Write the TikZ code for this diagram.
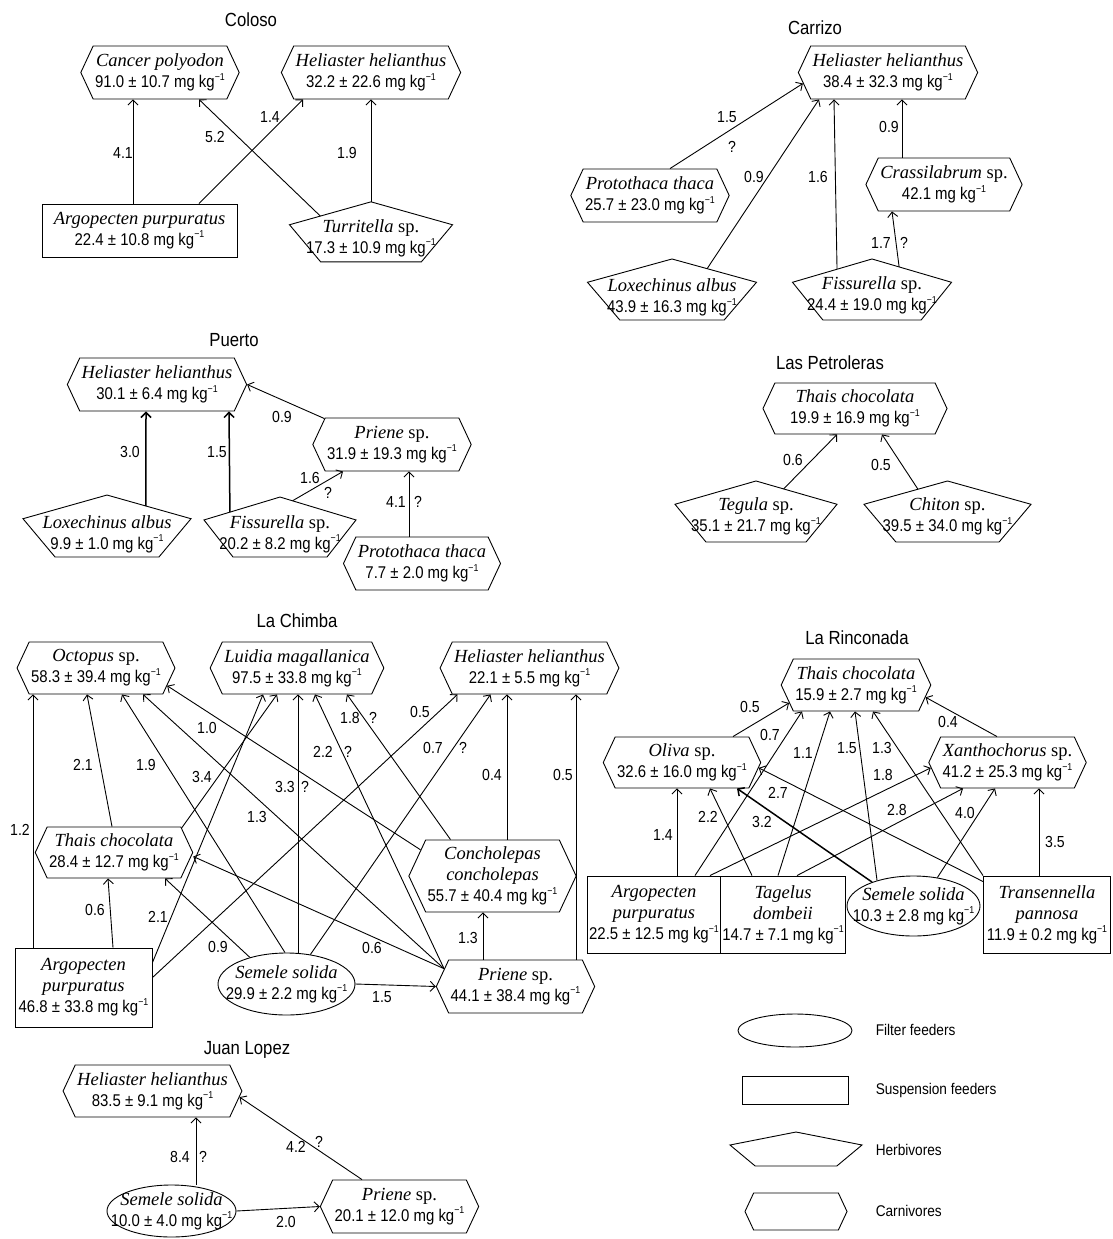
\documentclass[tikz,border=0pt]{standalone}
\usepackage{fontspec}
\setmainfont{Liberation Serif}
\newfontfamily\sansc[FakeStretch=0.88]{Liberation Sans}
\usetikzlibrary{arrows.meta, shapes.geometric, shapes.symbols}

% mean concentration line under a species name
\newcommand{\val}[1]{{\sansc\fontsize{17}{21}\selectfont #1 mg kg\raisebox{.45em}{\fontsize{10}{10}\selectfont −1}}}

\begin{document}
\begin{tikzpicture}[x=1pt, y=-1pt, line width=0.9pt]
  \tikzset{
    sp/.style = {align=center, font=\fontsize{18.5}{21}\selectfont,
      inner xsep=2pt, inner ysep=0pt},
    carn/.style = {sp, draw, signal, signal to=east and west,
      signal pointer angle=130, minimum height=53pt},
    susp/.style = {sp, draw, rectangle, minimum height=53pt},
    filt/.style = {sp, draw, ellipse, inner xsep=-16pt, inner ysep=-2pt},
    herb/.style 2 args = {draw, regular polygon, regular polygon sides=5,
      minimum size=20pt, inner sep=0pt, outer sep=0pt,
      xscale=#1/19.02, yscale=#2/18.09, transform shape},
    num/.style = {font=\sansc\fontsize{16}{16}\selectfont, inner sep=0pt},
    site/.style = {font=\sansc\fontsize{19}{19}\selectfont},
    key/.style = {font=\sansc\fontsize{15.5}{16}\selectfont, anchor=west},
    feeds/.style = {-{Straight Barb[length=5pt, width=10pt]}},
    heavy/.style = {line width=1.5pt}
  }
  \useasboundingbox (0,0) rectangle (1112,1239);

  % Coloso
  \node[site] (coloso) at (251,20) {Coloso};
  \node[carn] (cc-canc) at (160,72.5) {\textit{Cancer polyodon}\\\val{91.0 ± 10.7}};
  \node[carn] (cc-heli) at (371,72.5) {\textit{Heliaster helianthus}\\\val{32.2 ± 22.6}};
  \node[susp, minimum width=195pt] (cc-argo) at (139.5,230.5)
    {\textit{Argopecten purpuratus}\\\val{22.4 ± 10.8}};
  \node[herb={163}{60}] (cc-turr) at (371,235) {};
  \node[sp] (cc-turr-t) at ([yshift=-3pt]cc-turr) {\textit{Turritella} sp.\\\val{17.3 ± 10.9}};
  \draw[feeds] ([xshift=-6.5pt]cc-argo.north) -- ([xshift=-27pt]cc-canc.south);
  \draw[feeds] ([xshift=59.5pt]cc-argo.north) -- ([xshift=-68pt]cc-heli.south);
  \draw[feeds] (cc-turr.136) -- ([xshift=39pt]cc-canc.south);
  \draw[feeds] (cc-turr.north) -- (cc-heli.south);
  \node[num] (cc-n1) at (123,153) {4.1};
  \node[num] (cc-n2) at (215,137) {5.2};
  \node[num] (cc-n3) at (270,117) {1.4};
  \node[num] (cc-n4) at (347,153) {1.9};

  % Carrizo
  \node[site] (carrizo) at (815,28) {Carrizo};
  \node[carn] (cz-heli) at (888,72.5) {\textit{Heliaster helianthus}\\\val{38.4 ± 32.3}};
  \node[carn] (cz-prot) at (650,195.5) {\textit{Protothaca thaca}\\\val{25.7 ± 23.0}};
  \node[carn] (cz-cras) at (944,184.5) {\textit{Crassilabrum} sp.\\\val{42.1}};
  \node[herb={169}{61}] (cz-loxe) at (672,292.7) {};
  \node[sp] (cz-loxe-t) at ([yshift=-5pt]cz-loxe) {\textit{Loxechinus albus}\\\val{43.9 ± 16.3}};
  \node[herb={159}{61}] (cz-fiss) at (872,292.7) {};
  \node[sp] (cz-fiss-t) at ([yshift=-3pt]cz-fiss) {\textit{Fissurella} sp.\\\val{24.4 ± 19.0}};
  \draw[feeds] ([xshift=20pt]cz-prot.north) -- ([xshift=5pt, yshift=-11pt]cz-heli.west);
  \draw[feeds] (cz-loxe.61) -- ([xshift=-69pt]cz-heli.south);
  \draw[feeds] (cz-fiss.121) -- ([xshift=-54pt]cz-heli.south);
  \draw[feeds] ([xshift=-42pt]cz-cras.north) -- ([xshift=14pt]cz-heli.south);
  \draw[feeds] (cz-fiss.67) -- ([xshift=-52pt]cz-cras.south);
  \node[num] (cz-n1) at (727,117) {1.5};
  \node[num] (cz-q1) at (732,147) {?};
  \node[num] (cz-n2) at (754,177) {0.9};
  \node[num] (cz-n3) at (818,177) {1.6};
  \node[num] (cz-n4) at (889,127) {0.9};
  \node[num] (cz-n5) at (881,243) {1.7};
  \node[num] (cz-q5) at (904,243) {?};

  % Puerto
  \node[site] (puerto) at (234,340) {Puerto};
  \node[carn] (pt-heli) at (157,384.5) {\textit{Heliaster helianthus}\\\val{30.1 ± 6.4}};
  \node[carn] (pt-prie) at (392,444.5) {\textit{Priene} sp.\\\val{31.9 ± 19.3}};
  \node[herb={168}{62}] (pt-loxe) at (107,529.3) {};
  \node[sp] (pt-loxe-t) at ([yshift=-5pt]pt-loxe) {\textit{Loxechinus albus}\\\val{9.9 ± 1.0}};
  \node[herb={152}{60}] (pt-fiss) at (280,530.2) {};
  \node[sp] (pt-fiss-t) at ([yshift=-4pt]pt-fiss) {\textit{Fissurella} sp.\\\val{20.2 ± 8.2}};
  \node[carn] (pt-prot) at (422,563.5) {\textit{Protothaca thaca}\\\val{7.7 ± 2.0}};
  \draw[feeds, heavy] (pt-loxe.57) -- ([xshift=-11pt]pt-heli.south);
  \draw[feeds, heavy] (pt-fiss.139) -- ([xshift=72pt]pt-heli.south);
  \draw[feeds] (pt-prie.159) -- (pt-heli.east);
  \draw[feeds] (pt-fiss.80) -- ([xshift=-49pt]pt-prie.south);
  \draw[feeds] ([xshift=-13pt]pt-prot.north) -- ([xshift=17pt]pt-prie.south);
  \node[num] (pt-n1) at (130,452) {3.0};
  \node[num] (pt-n2) at (217,452) {1.5};
  \node[num] (pt-n3) at (282,417) {0.9};
  \node[num] (pt-n4) at (310,478) {1.6};
  \node[num] (pt-q4) at (328,493) {?};
  \node[num] (pt-n5) at (396,502) {4.1};
  \node[num] (pt-q5) at (418,502) {?};

  % Las Petroleras
  \node[site] (petroleras) at (830,363) {Las Petroleras};
  \node[carn, minimum height=51pt, minimum width=184pt] (lp-thai) at (855,408.5)
    {\textit{Thais chocolata}\\\val{19.9 ± 16.9}};
  \node[herb={162}{61}] (lp-tegu) at (756,514.7) {};
  \node[sp] (lp-tegu-t) at ([yshift=-2pt]lp-tegu) {\textit{Tegula} sp.\\\val{35.1 ± 21.7}};
  \node[herb={167}{61}] (lp-chit) at (947.5,514.7) {};
  \node[sp] (lp-chit-t) at ([yshift=-2pt]lp-chit) {\textit{Chiton} sp.\\\val{39.5 ± 34.0}};
  \draw[feeds] (lp-tegu.67) -- ([xshift=-18pt]lp-thai.south);
  \draw[feeds] (lp-chit.114) -- ([xshift=27pt]lp-thai.south);
  \node[num] (lp-n1) at (793,460) {0.6};
  \node[num] (lp-n2) at (881,465) {0.5};

  % La Chimba
  \node[site] (chimba) at (297,621) {La Chimba};
  \node[carn, minimum height=52pt] (ch-octo) at (96,668) {\textit{Octopus} sp.\\\val{58.3 ± 39.4}};
  \node[carn, minimum height=52pt] (ch-luid) at (297,668) {\textit{Luidia magallanica}\\\val{97.5 ± 33.8}};
  \node[carn, minimum height=52pt] (ch-heli) at (529.5,668) {\textit{Heliaster helianthus}\\\val{22.1 ± 5.5}};
  \node[carn, minimum height=51pt] (ch-thai) at (114,852.5) {\textit{Thais chocolata}\\\val{28.4 ± 12.7}};
  \node[carn, minimum height=72pt] (ch-conc) at (492.5,876)
    {\textit{Concholepas}\\\textit{concholepas}\\\val{55.7 ± 40.4}};
  \node[susp, minimum width=137pt, minimum height=79pt] (ch-argo) at (83.5,987.5)
    {\textit{Argopecten}\\\textit{purpuratus}\\\val{46.8 ± 33.8}};
  \node[filt, minimum width=137pt, minimum height=62pt] (ch-seme) at (286.5,984)
    {\textit{Semele solida}\\\val{29.9 ± 2.2}};
  \node[carn] (ch-prie) at (515.5,986.5) {\textit{Priene} sp.\\\val{44.1 ± 38.4}};
  \draw[feeds] ([xshift=-50.5pt]ch-argo.north) -- ([xshift=-63pt]ch-octo.south);
  \draw[feeds] ([xshift=-2pt]ch-thai.north) -- ([xshift=-9pt]ch-octo.south);
  \draw[feeds] ([xshift=29.5pt]ch-argo.north) -- ([xshift=-6pt]ch-thai.south);
  \draw[feeds] ([xshift=-1.5pt]ch-seme.north) -- ([xshift=26pt]ch-octo.south);
  \draw[feeds] (ch-prie.166) -- ([xshift=47pt]ch-octo.south);
  \draw[feeds] (ch-conc.160) -- (ch-octo.-14);
  \draw[feeds] ([yshift=-15pt]ch-argo.north east) -- ([xshift=-34pt]ch-luid.south);
  \draw[feeds] (ch-thai.20) -- ([xshift=-20pt]ch-luid.south);
  \draw[feeds] ([xshift=11.5pt]ch-seme.north) -- ([xshift=1pt]ch-luid.south);
  \draw[feeds] (ch-prie.166) -- ([xshift=18pt]ch-luid.south);
  \draw[feeds] ([xshift=-42pt]ch-conc.north) -- ([xshift=50pt]ch-luid.south);
  \draw[feeds] ([yshift=-30pt]ch-argo.north east) -- ([xshift=-72pt]ch-heli.south);
  \draw[feeds] (ch-seme.51) -- ([xshift=-39pt]ch-heli.south);
  \draw[feeds] ([xshift=14.5pt]ch-conc.north) -- ([xshift=-22.5pt]ch-heli.south);
  \draw[feeds] ([xshift=60.5pt]ch-prie.north) -- ([xshift=46.5pt]ch-heli.south);
  \draw[feeds] ([xshift=-32.5pt]ch-prie.north) -- ([xshift=-9.5pt]ch-conc.south);
  \draw[feeds] (ch-seme.east) -- (ch-prie.west);
  \draw[feeds] (ch-prie.166) -- ([yshift=-4pt]ch-thai.east);
  \draw[feeds] (ch-seme.144) -- ([xshift=51pt]ch-thai.south);
  \node[num] (ch-n1) at (20,830) {1.2};
  \node[num] (ch-n2) at (83,765) {2.1};
  \node[num] (ch-n3) at (146,765) {1.9};
  \node[num] (ch-n4) at (202,777) {3.4};
  \node[num] (ch-n5) at (207,728) {1.0};
  \node[num] (ch-n6) at (257,817) {1.3};
  \node[num] (ch-n7) at (285,787) {3.3};
  \node[num] (ch-q7) at (305,787) {?};
  \node[num] (ch-n8) at (323,752) {2.2};
  \node[num] (ch-q8) at (348,752) {?};
  \node[num] (ch-n9) at (350,718) {1.8};
  \node[num] (ch-q9) at (373,718) {?};
  \node[num] (ch-n10) at (420,712) {0.5};
  \node[num] (ch-n11) at (433,748) {0.7};
  \node[num] (ch-q11) at (463,748) {?};
  \node[num] (ch-n12) at (492,775) {0.4};
  \node[num] (ch-n13) at (563,775) {0.5};
  \node[num] (ch-n14) at (95,910) {0.6};
  \node[num] (ch-n15) at (158,917) {2.1};
  \node[num] (ch-n16) at (218,947) {0.9};
  \node[num] (ch-n17) at (372,948) {0.6};
  \node[num] (ch-n18) at (468,938) {1.3};
  \node[num] (ch-n19) at (382,997) {1.5};

  % La Rinconada
  \node[site] (rinconada) at (857,638) {La Rinconada};
  \node[carn, minimum height=52pt] (lr-thai) at (856,685) {\textit{Thais chocolata}\\\val{15.9 ± 2.7}};
  \node[carn, minimum height=51pt] (lr-oliv) at (682,762.5) {\textit{Oliva} sp.\\\val{32.6 ± 16.0}};
  \node[carn, minimum height=51pt] (lr-xant) at (1007.5,762.5) {\textit{Xanthochorus} sp.\\\val{41.2 ± 25.3}};
  \node[susp, minimum width=130pt, minimum height=77pt] (lr-argo) at (654,914.5)
    {\textit{Argopecten}\\\textit{purpuratus}\\\val{22.5 ± 12.5}};
  \node[susp, minimum width=120pt, minimum height=77pt] (lr-tage) at (783,914.5)
    {\textit{Tagelus}\\\textit{dombeii}\\\val{14.7 ± 7.1}};
  \node[filt, minimum width=133pt, minimum height=60pt] (lr-seme) at (913.5,906)
    {\textit{Semele solida}\\\val{10.3 ± 2.8}};
  \node[susp, minimum width=127pt, minimum height=77pt] (lr-tran) at (1047,914.5)
    {\textit{Transennella}\\\textit{pannosa}\\\val{11.9 ± 0.2}};
  \draw[feeds] ([xshift=51pt]lr-oliv.north) -- (lr-thai.195);
  \draw[feeds] ([xshift=-10.5pt]lr-xant.north) -- (lr-thai.-10);
  \draw[feeds] ([xshift=23pt]lr-argo.north) -- ([xshift=-5pt]lr-oliv.south);
  \draw[feeds] ([xshift=41pt]lr-argo.north) -- ([xshift=-54pt]lr-thai.south);
  \draw[feeds] ([xshift=56pt]lr-argo.north) -- (lr-xant.184);
  \draw[feeds] ([xshift=-31pt]lr-tage.north) -- ([xshift=28pt]lr-oliv.south);
  \draw[feeds] ([xshift=-5pt]lr-tage.north) -- ([xshift=-26pt]lr-thai.south);
  \draw[feeds] ([xshift=14pt]lr-tage.north) -- ([xshift=-44.5pt]lr-xant.south);
  \draw[feeds, heavy] (lr-seme.150) -- ([xshift=55pt]lr-oliv.south);
  \draw[feeds] (lr-seme.145) -- ([xshift=-1pt]lr-thai.south);
  \draw[feeds] (lr-seme.50) -- ([xshift=-12.5pt]lr-xant.south);
  \draw[feeds] ([yshift=-6pt]lr-tran.north west) -- (lr-oliv.-4);
  \draw[feeds] (lr-tran.north west) -- ([xshift=17pt]lr-thai.south);
  \draw[feeds] ([xshift=-8pt]lr-tran.north) -- ([xshift=31.5pt]lr-xant.south);
  \node[num] (lr-n1) at (750,707) {0.5};
  \node[num] (lr-n2) at (948,722) {0.4};
  \node[num] (lr-n3) at (663,835) {1.4};
  \node[num] (lr-n4) at (770,735) {0.7};
  \node[num] (lr-n5) at (883,775) {1.8};
  \node[num] (lr-n6) at (708,817) {2.2};
  \node[num] (lr-n7) at (803,753) {1.1};
  \node[num] (lr-n8) at (897,810) {2.8};
  \node[num] (lr-n9) at (762,822) {3.2};
  \node[num] (lr-n10) at (847,748) {1.5};
  \node[num] (lr-n11) at (965,813) {4.0};
  \node[num] (lr-n12) at (778,793) {2.7};
  \node[num] (lr-n13) at (882,748) {1.3};
  \node[num] (lr-n14) at (1055,842) {3.5};

  % Juan Lopez
  \node[site] (juanlopez) at (247,1050) {Juan Lopez};
  \node[carn, minimum height=52pt] (jl-heli) at (152.5,1091) {\textit{Heliaster helianthus}\\\val{83.5 ± 9.1}};
  \node[filt, minimum width=129pt, minimum height=52pt] (jl-seme) at (171.5,1211)
    {\textit{Semele solida}\\\val{10.0 ± 4.0}};
  \node[carn] (jl-prie) at (399.5,1206.5) {\textit{Priene} sp.\\\val{20.1 ± 12.0}};
  \draw[feeds] ([xshift=24.5pt]jl-seme.north) -- ([xshift=43.5pt]jl-heli.south);
  \draw[feeds] ([xshift=-37.5pt]jl-prie.north) -- (jl-heli.-4);
  \draw[feeds] (jl-seme.east) -- (jl-prie.west);
  \node[num] (jl-n1) at (180,1157) {8.4};
  \node[num] (jl-q1) at (203,1157) {?};
  \node[num] (jl-n2) at (296,1147) {4.2};
  \node[num] (jl-q2) at (319,1142) {?};
  \node[num] (jl-n3) at (286,1222) {2.0};

  % legend
  \node[filt, minimum width=114pt, minimum height=33pt] (key-filt) at (795,1030.5) {};
  \node[key] (key-filt-t) at (872,1030) {Filter feeders};
  \node[susp, minimum width=106pt, minimum height=28pt] (key-susp) at (795,1090) {};
  \node[key] (key-susp-t) at (872,1090) {Suspension feeders};
  \node[herb={132}{34}] (key-herb) at (796,1150.8) {};
  \node[key] (key-herb-t) at (872,1150) {Herbivores};
  \node[carn, minimum width=102pt, minimum height=37pt] (key-carn) at (796,1211.5) {};
  \node[key] (key-carn-t) at (872,1211) {Carnivores};
\end{tikzpicture}
\end{document}
